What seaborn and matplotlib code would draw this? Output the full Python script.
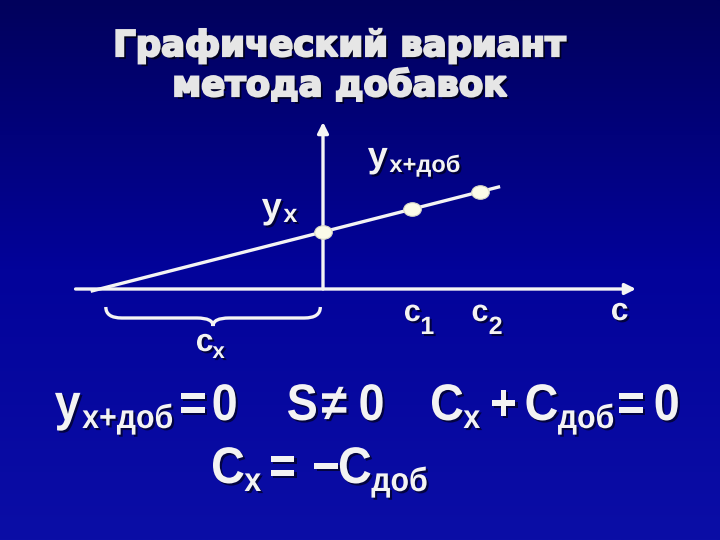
import numpy as np
import pandas as pd
import matplotlib
matplotlib.use("Agg")
from matplotlib import pyplot as plt
from matplotlib.font_manager import FontProperties
from matplotlib.markers import MarkerStyle
from matplotlib.path import Path
from matplotlib.patches import PathPatch
from matplotlib.textpath import TextPath
from matplotlib.transforms import Affine2D
import matplotlib.patheffects as pe
import seaborn as sns

sns.set_theme(style="white")
plt.rcParams["font.family"] = ["Liberation Sans", "DejaVu Sans"]

# data
title_lines = ["Графический вариант", "метода добавок"]
conc = [0.0, 1.0, 1.76]          # 0, c1, c2 (added concentration)
signal = [2.48, 3.48, 4.22]      # y_x, then two y_x+доб readings
conc_subs = ["1", "2"]
line_right = 1.99

TXT = "#f3f3f3"
LINE = "#f4f4f4"
BG_TOP = "#01015c"
BG_BOT = "#0b0ea6"
W, H = 720, 540

shadow = [pe.withSimplePatchShadow(offset=(1.5, -1.5), shadow_rgbFace="black", alpha=0.6)]


def P(px, py):
    # slide pixel -> data units (axis origin at px 323, 289)
    return (px - 323) / 89.0, (289 - py) / 23.0


def ink_path(s, size, family):
    prop = FontProperties(family=family, weight="bold", size=size)
    path = TextPath((0, 0), s, prop=prop)
    ext = path.get_extents()
    return path, ext


def rich(fig, px, py, parts, size, sub_size, sub_drop, family="Liberation Sans",
         sx=1.0, color=TXT, effects=shadow, center=False):
    # parts: (text, is_subscript, gap in px before it); px/py = left ink edge, baseline
    k = 100 / 72.0
    pieces = []
    x = 0.0
    for s, is_sub, gap in parts:
        fs = sub_size if is_sub else size
        path, ext = ink_path(s, fs, family)
        x += gap
        pieces.append((path, x - ext.x0 * k * sx, sub_drop if is_sub else 0))
        x += (ext.x1 - ext.x0) * k * sx
    if center:
        px = px - x / 2
    for path, xo, drop in pieces:
        tr = Affine2D().scale(k * sx, k).translate(px + xo, H - (py + drop))
        fig.add_artist(PathPatch(path, transform=tr, facecolor=color,
                                 edgecolor="none", path_effects=effects))


fig = plt.figure(figsize=(7.2, 5.4), dpi=100)

bg = fig.add_axes([0, 0, 1, 1], zorder=-1)
grad = np.linspace(0, 1, 256)[:, None]
cmap = matplotlib.colors.LinearSegmentedColormap.from_list("bg", [BG_TOP, "#03039a", BG_BOT])
bg.imshow(grad, aspect="auto", cmap=cmap, extent=[0, 1, 0, 1], origin="upper")
bg.set_axis_off()

ax = fig.add_axes([0, 0, 1, 1])
ax.set_facecolor("none")
ax.set_xlim(-323 / 89.0, (W - 323) / 89.0)
ax.set_ylim((289 - H) / 23.0, 289 / 23.0)
ax.set_axis_off()

df = pd.DataFrame({"c": conc, "signal": signal})
slope, icpt = np.polyfit(df["c"], df["signal"], 1)
x_int = -icpt / slope

# axes with arrows
arr = dict(arrowstyle="-|>", lw=2.4, color=LINE, mutation_scale=16, shrinkA=0, shrinkB=0)
ax.annotate("", xy=P(636, 289), xytext=(x_int - 0.27, 0), arrowprops=arr)
ax.annotate("", xy=(0, P(323, 122)[1]), xytext=(0, 0), arrowprops=arr)

# calibration line extrapolated to the x axis
xl = np.array([x_int - 0.1, line_right])
ax.plot(xl, slope * xl + icpt, color=LINE, lw=2.4, solid_capstyle="butt")

ell = MarkerStyle("o", transform=Affine2D().scale(1.3, 1.0))
sns.scatterplot(data=df, x="c", y="signal", ax=ax, marker=ell, s=95,
                color="#fbfbe8", edgecolor="#d8d8c8", linewidth=0.8, zorder=5, legend=False)

# brace under the segment c_x
y_end, y_bar, y_tip = P(0, 307)[1], P(0, 318)[1], P(0, 326)[1]
x0, x1 = x_int + 0.07, -0.03
xm = (x0 + x1) / 2
r = 0.18
verts = [(x0, y_end), (x0, y_bar), (x0 + r, y_bar),
         (xm - r, y_bar), (xm, y_bar), (xm, y_tip),
         (xm, y_bar), (xm + r, y_bar),
         (x1 - r, y_bar), (x1, y_bar), (x1, y_end)]
codes = [Path.MOVETO, Path.CURVE3, Path.CURVE3,
         Path.LINETO, Path.CURVE3, Path.CURVE3,
         Path.CURVE3, Path.CURVE3,
         Path.LINETO, Path.CURVE3, Path.CURVE3]
ax.add_patch(PathPatch(Path(verts, codes), fill=False, edgecolor=LINE, lw=2.4))

# title
title_fx = [pe.withSimplePatchShadow(offset=(2, -2), shadow_rgbFace="black", alpha=0.7),
            pe.withStroke(linewidth=1.6, foreground="#e6e6e6")]
for i, line in enumerate(title_lines):
    rich(fig, 341, 56 + 40 * i, [(line, False, 0)], 25.5, 0, 0, family="DejaVu Sans",
         color="#e6e6e6", effects=title_fx, center=True)

# graph labels
rich(fig, 262, 218, [("y", False, 0), ("x", True, 2)], 26, 18, 4)
rich(fig, 368, 167, [("y", False, 0), ("x+доб", True, 2)], 26, 17, 5)
rich(fig, 197, 351, [("c", False, 0), ("x", True, 0)], 23, 16, 7)
for sub, c in zip(conc_subs, conc[1:]):
    rich(fig, 323 + 89 * c - 7, 321, [("c", False, 0), (sub, True, 2)], 22, 18, 13)
rich(fig, 612, 320, [("c", False, 0)], 23, 0, 0)

# equations (narrow look via horizontal squeeze)
EQ = dict(size=37, sub_size=24, sub_drop=8, sx=0.91)
rich(fig, 55, 420, [("y", False, 0), ("x+доб", True, 2), ("=", False, 9), ("0", False, 9)], **EQ)
rich(fig, 288, 420, [("S", False, 0), ("≠", False, 6), ("0", False, 14)], **EQ)
rich(fig, 432, 420, [("C", False, 0), ("x", True, 1), ("+", False, 12), ("C", False, 11),
                     ("доб", True, 1), ("=", False, 6), ("0", False, 13)], **EQ)
rich(fig, 213, 483, [("C", False, 0), ("x", True, 1), ("=", False, 10), ("−", False, 20),
                     ("C", False, 2), ("доб", True, 1)], **EQ)

fig.savefig("out.png", dpi=100)
